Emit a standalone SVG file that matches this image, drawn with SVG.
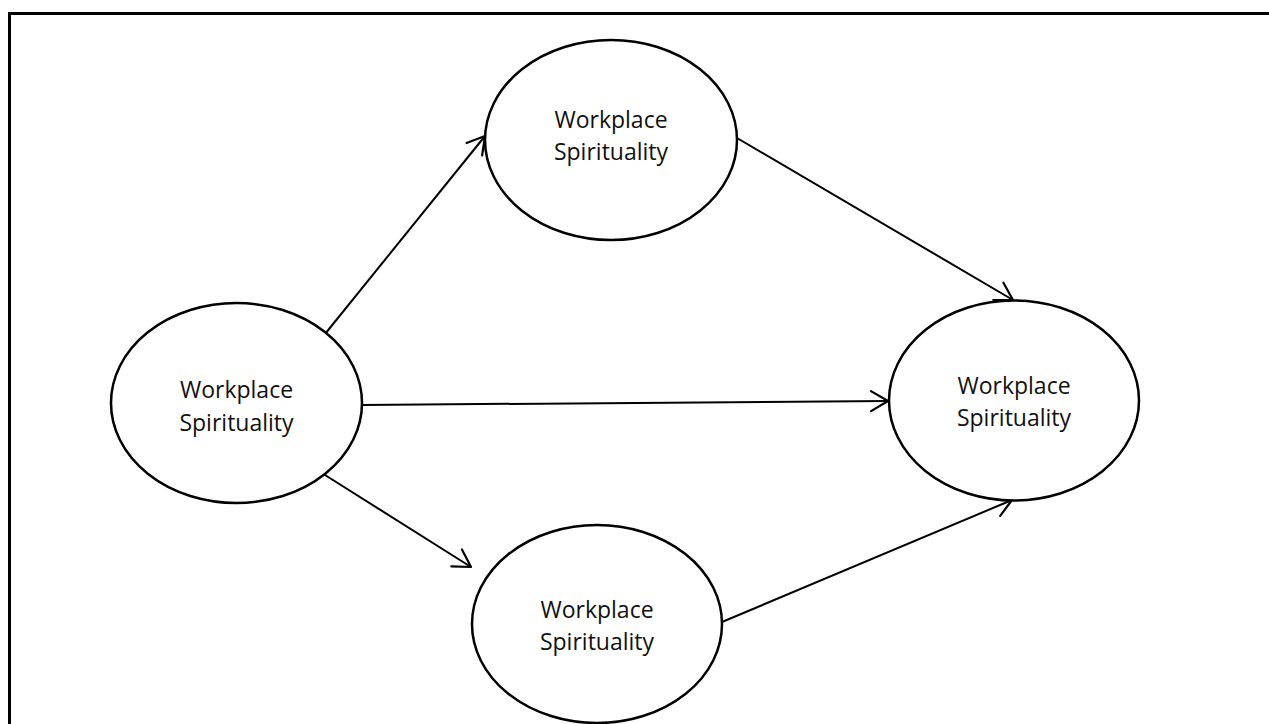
<svg xmlns="http://www.w3.org/2000/svg" width="1269" height="724" viewBox="0 0 1269 724">
<style>
  .node ellipse { fill: #fff; stroke: #000; stroke-width: 2.5; }
  .node text { font-family: "Open Sans", "Noto Sans", sans-serif; font-size: 23px; fill: #111; text-anchor: middle; }
  .conn line { stroke: #000; stroke-width: 2; fill: none; marker-end: url(#arr); }
</style>
<defs>
  <marker id="arr" markerUnits="userSpaceOnUse" viewBox="-20 -12 22 24" refX="0" refY="0" markerWidth="22" markerHeight="24" orient="auto">
    <path d="M-17,-10 L0,0 L-17,10" fill="none" stroke="#000" stroke-width="2.2" stroke-linecap="round" stroke-linejoin="round"/>
  </marker>
</defs>
<rect x="0" y="0" width="1269" height="724" fill="#fff"/>
<rect x="9.5" y="13.5" width="1300" height="760" fill="none" stroke="#000" stroke-width="3"/>
<g class="conn">
  <line x1="325" y1="334" x2="485" y2="136"/>
  <line x1="737" y1="138" x2="1013" y2="300"/>
  <line x1="362" y1="405" x2="888" y2="401"/>
  <line x1="325" y1="475" x2="471" y2="567"/>
  <line x1="722" y1="622" x2="1012" y2="500"/>
</g>
<g id="n-left" class="node">
  <ellipse cx="236.5" cy="403" rx="125.5" ry="100"/>
  <text x="236.5" y="398">Workplace</text>
  <text x="236.5" y="430.5">Spirituality</text>
</g>
<g id="n-top" class="node">
  <ellipse cx="611" cy="140" rx="126" ry="100"/>
  <text x="611" y="128">Workplace</text>
  <text x="611" y="160">Spirituality</text>
</g>
<g id="n-right" class="node">
  <ellipse cx="1014" cy="400.5" rx="125" ry="100"/>
  <text x="1014" y="394">Workplace</text>
  <text x="1014" y="426">Spirituality</text>
</g>
<g id="n-bottom" class="node">
  <ellipse cx="597" cy="624" rx="125" ry="99"/>
  <text x="597" y="618">Workplace</text>
  <text x="597" y="650">Spirituality</text>
</g>
</svg>
